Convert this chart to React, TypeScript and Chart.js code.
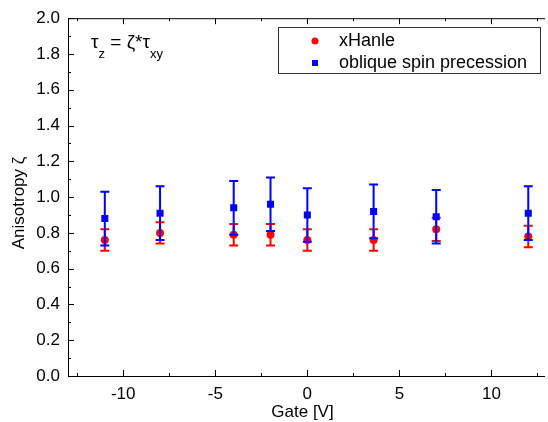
import React, { useEffect, useRef } from "react";
import { Chart, registerables } from "chart.js";

Chart.register(...registerables);

// ---- data ----
const gateV = [-11, -8, -4, -2, 0, 3.6, 7, 12];
const xHanle = [0.76, 0.8, 0.79, 0.79, 0.76, 0.76, 0.82, 0.78];
const xHanleErr = [0.06, 0.06, 0.06, 0.06, 0.06, 0.06, 0.065, 0.06];
const oblique = [0.88, 0.91, 0.94, 0.96, 0.9, 0.92, 0.89, 0.91];
const obliqueErr = [0.15, 0.15, 0.15, 0.15, 0.15, 0.15, 0.15, 0.15];
const xMajorTicks = [-10, -5, 0, 5, 10];
const xMinorTicks = [-12.5, -7.5, -2.5, 2.5, 7.5, 12.5];
const yMajorTicks = [0, 0.2, 0.4, 0.6, 0.8, 1.0, 1.2, 1.4, 1.6, 1.8, 2.0];
const yMinorTicks = [0.1, 0.3, 0.5, 0.7, 0.9, 1.1, 1.3, 1.5, 1.7, 1.9];
const seriesNames = ["xHanle", "oblique spin precession"];
const xTitle = "Gate [V]";
const yTitle = "Anisotropy ζ";

const FONT = "'Liberation Sans', Arial, sans-serif";
const RED = "#ff0000";
const BLUE = "#0000ff";

const errorsFor: Record<string, number[]> = {
  [seriesNames[0]]: xHanleErr,
  [seriesNames[1]]: obliqueErr,
};

const errorBarPlugin = {
  id: "errorBars",
  beforeDatasetDraw(chart: any, args: any) {
    const ds = chart.data.datasets[args.index];
    const errs = errorsFor[ds.label];
    if (!errs) return;
    const ctx = chart.ctx;
    const ys = chart.scales.y;
    ctx.save();
    ctx.strokeStyle = ds.backgroundColor;
    ctx.lineWidth = 2;
    args.meta.data.forEach((pt: any, i: number) => {
      const v = ds.data[i].y;
      const e = errs[i];
      const yt = ys.getPixelForValue(v + e);
      const yb = ys.getPixelForValue(v - e);
      const x = pt.x;
      ctx.beginPath();
      ctx.moveTo(x, yt);
      ctx.lineTo(x, yb);
      ctx.moveTo(x - 4.5, yt);
      ctx.lineTo(x + 4.5, yt);
      ctx.moveTo(x - 4.5, yb);
      ctx.lineTo(x + 4.5, yb);
      ctx.stroke();
    });
    ctx.restore();
  },
};

const decorPlugin = {
  id: "decor",
  afterDraw(chart: any) {
    const ctx = chart.ctx;
    const a = chart.chartArea;
    const xs = chart.scales.x;
    const ys = chart.scales.y;
    ctx.save();
    // frame
    ctx.strokeStyle = "#000";
    ctx.lineWidth = 1;
    ctx.beginPath();
    ctx.moveTo(a.left + 0.5, a.top + 0.5);
    ctx.lineTo(a.right + 2, a.top + 0.5);
    ctx.moveTo(a.left + 0.5, a.top);
    ctx.lineTo(a.left + 0.5, a.bottom + 0.5);
    ctx.lineTo(a.right + 2, a.bottom + 0.5);
    ctx.stroke();
    // ticks (inward)
    ctx.beginPath();
    const xt = (vals: number[], len: number) => {
      vals.forEach((v) => {
        const px = Math.round(xs.getPixelForValue(v)) + 0.5;
        ctx.moveTo(px, a.bottom);
        ctx.lineTo(px, a.bottom - len);
        ctx.moveTo(px, a.top);
        ctx.lineTo(px, a.top + len);
      });
    };
    const yt = (vals: number[], len: number) => {
      vals.forEach((v) => {
        const py = Math.round(ys.getPixelForValue(v)) + 0.5;
        ctx.moveTo(a.left, py);
        ctx.lineTo(a.left + len, py);
      });
    };
    xt(xMajorTicks, 6);
    xt(xMinorTicks, 3);
    yt(yMajorTicks, 6);
    yt(yMinorTicks, 3);
    ctx.stroke();

    // axis titles
    ctx.fillStyle = "#000";
    ctx.font = `17px ${FONT}`;
    ctx.textAlign = "center";
    ctx.textBaseline = "middle";
    ctx.fillText(xTitle, (a.left + a.right) / 2 - 3, 412);
    ctx.save();
    ctx.translate(19, 203);
    ctx.rotate(-Math.PI / 2);
    ctx.fillText(yTitle, 0, 0);
    ctx.restore();

    // annotation  τz = ζ*τxy
    ctx.textAlign = "left";
    ctx.textBaseline = "alphabetic";
    let x = 91;
    const base = 48;
    const sub = 58;
    const big = `19px ${FONT}`;
    const small = `13px ${FONT}`;
    const put = (t: string, font: string, y: number) => {
      ctx.font = font;
      ctx.fillText(t, x, y);
      x += ctx.measureText(t).width;
    };
    put("τ", big, base);
    put("z", small, sub);
    put(" = ζ*τ", big, base);
    put("xy", small, sub);

    // legend
    ctx.strokeStyle = "#333";
    ctx.lineWidth = 1;
    ctx.strokeRect(278.5, 27.5, 262, 46);
    ctx.font = `18px ${FONT}`;
    ctx.textBaseline = "middle";
    ctx.fillStyle = RED;
    ctx.beginPath();
    ctx.arc(315, 41, 3.5, 0, Math.PI * 2);
    ctx.fill();
    ctx.fillStyle = BLUE;
    ctx.fillRect(312, 60, 6, 6);
    ctx.fillStyle = "#000";
    ctx.fillText(seriesNames[0], 339, 41);
    ctx.fillText(seriesNames[1], 339, 63);
    ctx.restore();
  },
};

export default function App() {
  const ref = useRef<HTMLCanvasElement | null>(null);
  useEffect(() => {
    if (!ref.current) return;
    const chart = new Chart(ref.current, {
      type: "scatter",
      data: {
        datasets: [
          {
            label: seriesNames[0],
            data: gateV.map((g, i) => ({ x: g, y: xHanle[i] })),
            backgroundColor: RED,
            borderColor: RED,
            borderWidth: 0,
            pointStyle: "circle",
            pointRadius: 4,
            order: 2,
          },
          {
            label: seriesNames[1],
            data: gateV.map((g, i) => ({ x: g, y: oblique[i] })),
            backgroundColor: BLUE,
            borderColor: BLUE,
            borderWidth: 0,
            pointStyle: "rect",
            pointRadius: 5,
            order: 1,
          },
        ],
      },
      options: {
        animation: false,
        responsive: false,
        layout: { padding: { top: 15, left: 0, right: 0, bottom: 0 } },
        plugins: { legend: { display: false }, tooltip: { enabled: false } },
        scales: {
          x: {
            type: "linear",
            min: -13,
            max: 12.8,
            grid: { display: false, drawTicks: false },
            border: { display: false },
            afterBuildTicks: (s: any) => {
              s.ticks = xMajorTicks.map((v) => ({ value: v }));
            },
            afterFit: (s: any) => {
              s.height = 46;
            },
            ticks: {
              color: "#000",
              font: { family: FONT, size: 17 },
              padding: 8,
              maxRotation: 0,
              callback: (v: any) => String(v),
            },
          },
          y: {
            type: "linear",
            min: 0,
            max: 2,
            grid: { display: false, drawTicks: false },
            border: { display: false },
            afterBuildTicks: (s: any) => {
              s.ticks = yMajorTicks.map((v) => ({ value: v }));
            },
            afterFit: (s: any) => {
              s.width = 68;
            },
            ticks: {
              color: "#000",
              font: { family: FONT, size: 17 },
              padding: 8,
              callback: (v: any) => Number(v).toFixed(1),
            },
          },
        },
      },
      plugins: [errorBarPlugin, decorPlugin],
    });
    return () => chart.destroy();
  }, []);
  return (
    <div style={{ position: "absolute", left: 0, top: 0, width: 548, height: 422, background: "#fff" }}>
      <canvas ref={ref} width={548} height={422} style={{ display: "block" }} />
    </div>
  );
}
